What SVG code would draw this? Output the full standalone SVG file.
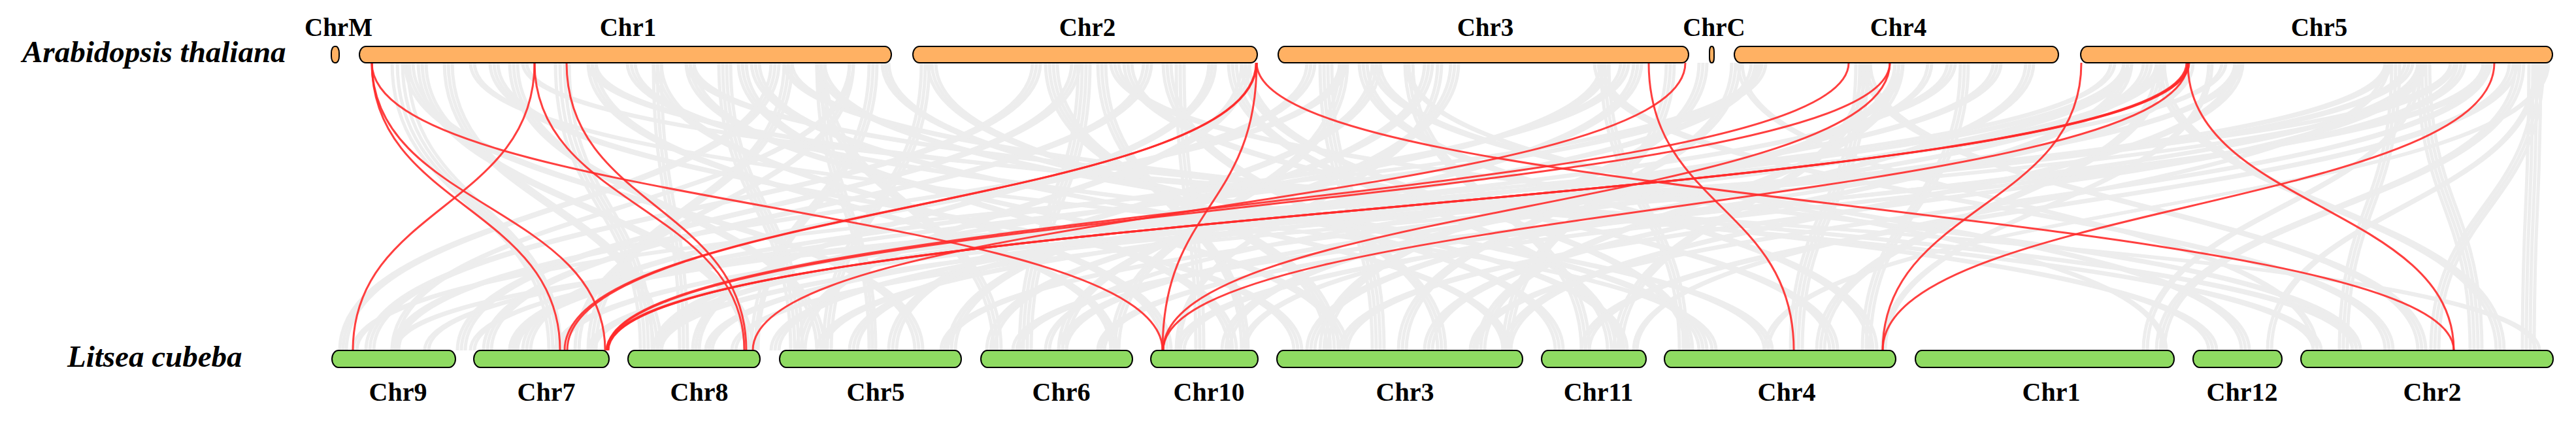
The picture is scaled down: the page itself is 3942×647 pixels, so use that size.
<svg xmlns="http://www.w3.org/2000/svg" width="3942" height="647" viewBox="0 0 3942 647">
<style>
.bg{fill:#ffffff}
.gray path{fill:none;stroke:#ededed;stroke-width:5}
.red path{fill:none;stroke:#ff2a2a;stroke-opacity:0.9;stroke-width:3}
.top{fill:#ffb163;stroke:#000;stroke-width:2}
.bot{fill:#8fdb62;stroke:#000;stroke-width:2}
.lab{font-family:"Liberation Serif","Times New Roman",serif;font-weight:bold;fill:#000;text-anchor:middle}
.tl{font-size:39px}
.bl{font-size:40px}
.sp{font-family:"Liberation Serif","Times New Roman",serif;font-weight:bold;font-style:italic;font-size:47px;fill:#000}
</style>
<rect class="bg" x="0" y="0" width="3942" height="647"/>
<g id="connectors">
<g class="gray">
<path d="M1180,96C1180,316 520,316 520,536"/><path d="M1186,96C1186,316 525,316 525,536"/><path d="M1192,96C1192,316 530,316 530,536"/>
<path d="M1580,96C1580,316 560,316 560,536"/><path d="M1586,96C1586,316 566,316 566,536"/><path d="M1592,96C1592,316 572,316 572,536"/>
<path d="M2050,96C2050,316 600,316 600,536"/><path d="M2055,96C2055,316 605,316 605,536"/><path d="M2060,96C2060,316 610,316 610,536"/>
<path d="M3400,96C3400,316 650,316 650,536"/><path d="M3406,96C3406,316 656,316 656,536"/>
<path d="M3750,96C3750,316 600,316 600,536"/><path d="M3756,96C3756,316 606,316 606,536"/>
<path d="M2690,96C2690,316 540,316 540,536"/><path d="M2696,96C2696,316 546,316 546,536"/>
<path d="M1300,96C1300,316 600,316 600,536"/><path d="M1306,96C1306,316 606,316 606,536"/>
<path d="M600,96C600,316 840,316 840,536"/><path d="M608,96C608,316 846,316 846,536"/><path d="M616,96C616,316 852,316 852,536"/><path d="M624,96C624,316 858,316 858,536"/>
<path d="M1750,96C1750,316 740,316 740,536"/><path d="M1756,96C1756,316 746,316 746,536"/><path d="M1762,96C1762,316 752,316 752,536"/>
<path d="M2690,96C2690,316 780,316 780,536"/><path d="M2696,96C2696,316 785,316 785,536"/><path d="M2702,96C2702,316 790,316 790,536"/>
<path d="M3250,96C3250,316 850,316 850,536"/><path d="M3256,96C3256,316 855,316 855,536"/><path d="M3262,96C3262,316 860,316 860,536"/>
<path d="M3650,96C3650,316 900,316 900,536"/><path d="M3655,96C3655,316 905,316 905,536"/><path d="M3660,96C3660,316 910,316 910,536"/>
<path d="M1300,96C1300,316 880,316 880,536"/><path d="M1306,96C1306,316 886,316 886,536"/>
<path d="M3230,96C3230,316 720,316 720,536"/><path d="M3236,96C3236,316 726,316 726,536"/>
<path d="M2000,96C2000,316 800,316 800,536"/><path d="M2006,96C2006,316 806,316 806,536"/><path d="M2012,96C2012,316 812,316 812,536"/>
<path d="M1200,96C1200,316 900,316 900,536"/><path d="M1206,96C1206,316 906,316 906,536"/><path d="M1212,96C1212,316 912,316 912,536"/>
<path d="M850,96C850,316 980,316 980,536"/><path d="M857,96C857,316 986,316 986,536"/><path d="M864,96C864,316 992,316 992,536"/><path d="M871,96C871,316 998,316 998,536"/>
<path d="M1000,96C1000,316 1040,316 1040,536"/><path d="M1006,96C1006,316 1046,316 1046,536"/><path d="M1012,96C1012,316 1052,316 1052,536"/>
<path d="M2450,96C2450,316 1000,316 1000,536"/><path d="M2456,96C2456,316 1006,316 1006,536"/><path d="M2462,96C2462,316 1012,316 1012,536"/>
<path d="M3300,96C3300,316 1080,316 1080,536"/><path d="M3306,96C3306,316 1085,316 1085,536"/><path d="M3312,96C3312,316 1090,316 1090,536"/>
<path d="M3750,96C3750,316 1120,316 1120,536"/><path d="M3756,96C3756,316 1126,316 1126,536"/>
<path d="M1850,96C1850,316 1060,316 1060,536"/><path d="M1855,96C1855,316 1065,316 1065,536"/><path d="M1860,96C1860,316 1070,316 1070,536"/>
<path d="M680,96C680,316 1000,316 1000,536"/><path d="M686,96C686,316 1006,316 1006,536"/><path d="M692,96C692,316 1012,316 1012,536"/>
<path d="M640,96C640,316 1140,316 1140,536"/><path d="M646,96C646,316 1146,316 1146,536"/><path d="M652,96C652,316 1152,316 1152,536"/>
<path d="M2980,96C2980,316 1000,316 1000,536"/><path d="M2986,96C2986,316 1006,316 1006,536"/><path d="M2992,96C2992,316 1012,316 1012,536"/>
<path d="M1100,96C1100,316 1210,316 1210,536"/><path d="M1106,96C1106,316 1216,316 1216,536"/><path d="M1112,96C1112,316 1222,316 1222,536"/><path d="M1118,96C1118,316 1228,316 1228,536"/>
<path d="M1410,96C1410,316 1260,316 1260,536"/><path d="M1416,96C1416,316 1266,316 1266,536"/><path d="M1422,96C1422,316 1272,316 1272,536"/>
<path d="M2680,96C2680,316 1300,316 1300,536"/><path d="M2686,96C2686,316 1306,316 1306,536"/><path d="M2692,96C2692,316 1312,316 1312,536"/>
<path d="M2100,96C2100,316 1360,316 1360,536"/><path d="M2106,96C2106,316 1366,316 1366,536"/><path d="M2112,96C2112,316 1372,316 1372,536"/>
<path d="M620,96C620,316 1400,316 1400,536"/><path d="M626,96C626,316 1406,316 1406,536"/><path d="M632,96C632,316 1412,316 1412,536"/>
<path d="M3420,96C3420,316 1440,316 1440,536"/><path d="M3425,96C3425,316 1445,316 1445,536"/><path d="M3430,96C3430,316 1450,316 1450,536"/>
<path d="M1250,96C1250,316 1330,316 1330,536"/><path d="M1256,96C1256,316 1335,316 1335,536"/><path d="M1262,96C1262,316 1340,316 1340,536"/>
<path d="M1900,96C1900,316 1220,316 1220,536"/><path d="M1906,96C1906,316 1226,316 1226,536"/><path d="M1912,96C1912,316 1232,316 1232,536"/>
<path d="M3250,96C3250,316 1250,316 1250,536"/><path d="M3256,96C3256,316 1256,316 1256,536"/><path d="M3262,96C3262,316 1262,316 1262,536"/>
<path d="M1250,96C1250,316 1520,316 1520,536"/><path d="M1256,96C1256,316 1526,316 1526,536"/><path d="M1262,96C1262,316 1532,316 1532,536"/>
<path d="M1650,96C1650,316 1560,316 1560,536"/><path d="M1656,96C1656,316 1566,316 1566,536"/><path d="M1662,96C1662,316 1572,316 1572,536"/><path d="M1668,96C1668,316 1578,316 1578,536"/>
<path d="M2220,96C2220,316 1620,316 1620,536"/><path d="M2226,96C2226,316 1626,316 1626,536"/><path d="M2232,96C2232,316 1632,316 1632,536"/>
<path d="M3700,96C3700,316 1680,316 1680,536"/><path d="M3705,96C3705,316 1685,316 1685,536"/><path d="M3710,96C3710,316 1690,316 1690,536"/>
<path d="M900,96C900,316 1700,316 1700,536"/><path d="M906,96C906,316 1705,316 1705,536"/><path d="M912,96C912,316 1710,316 1710,536"/>
<path d="M2950,96C2950,316 1600,316 1600,536"/><path d="M2956,96C2956,316 1606,316 1606,536"/>
<path d="M2500,96C2500,316 1510,316 1510,536"/><path d="M2506,96C2506,316 1516,316 1516,536"/><path d="M2512,96C2512,316 1522,316 1522,536"/>
<path d="M3800,96C3800,316 1550,316 1550,536"/><path d="M3806,96C3806,316 1556,316 1556,536"/><path d="M3812,96C3812,316 1562,316 1562,536"/>
<path d="M2050,96C2050,316 1700,316 1700,536"/><path d="M2056,96C2056,316 1706,316 1706,536"/><path d="M2062,96C2062,316 1712,316 1712,536"/>
<path d="M1000,96C1000,316 1780,316 1780,536"/><path d="M1006,96C1006,316 1786,316 1786,536"/><path d="M1012,96C1012,316 1792,316 1792,536"/>
<path d="M1800,96C1800,316 1830,316 1830,536"/><path d="M1806,96C1806,316 1836,316 1836,536"/><path d="M1812,96C1812,316 1842,316 1842,536"/>
<path d="M2900,96C2900,316 1870,316 1870,536"/><path d="M2906,96C2906,316 1876,316 1876,536"/><path d="M2912,96C2912,316 1882,316 1882,536"/>
<path d="M3350,96C3350,316 1900,316 1900,536"/><path d="M3356,96C3356,316 1906,316 1906,536"/>
<path d="M2200,96C2200,316 1800,316 1800,536"/><path d="M2206,96C2206,316 1805,316 1805,536"/>
<path d="M1680,96C1680,316 1900,316 1900,536"/><path d="M1686,96C1686,316 1905,316 1905,536"/><path d="M1692,96C1692,316 1910,316 1910,536"/>
<path d="M750,96C750,316 1980,316 1980,536"/><path d="M756,96C756,316 1986,316 1986,536"/><path d="M762,96C762,316 1992,316 1992,536"/>
<path d="M1600,96C1600,316 2030,316 2030,536"/><path d="M1606,96C1606,316 2036,316 2036,536"/><path d="M1612,96C1612,316 2042,316 2042,536"/><path d="M1618,96C1618,316 2048,316 2048,536"/>
<path d="M2020,96C2020,316 2100,316 2100,536"/><path d="M2026,96C2026,316 2106,316 2106,536"/><path d="M2032,96C2032,316 2112,316 2112,536"/><path d="M2038,96C2038,316 2118,316 2118,536"/>
<path d="M3250,96C3250,316 2180,316 2180,536"/><path d="M3256,96C3256,316 2186,316 2186,536"/><path d="M3262,96C3262,316 2192,316 2192,536"/>
<path d="M3800,96C3800,316 2250,316 2250,536"/><path d="M3805,96C3805,316 2255,316 2255,536"/><path d="M3810,96C3810,316 2260,316 2260,536"/>
<path d="M1150,96C1150,316 2300,316 2300,536"/><path d="M1156,96C1156,316 2305,316 2305,536"/><path d="M1162,96C1162,316 2310,316 2310,536"/>
<path d="M2650,96C2650,316 2140,316 2140,536"/><path d="M2656,96C2656,316 2146,316 2146,536"/><path d="M2662,96C2662,316 2152,316 2152,536"/>
<path d="M3100,96C3100,316 2000,316 2000,536"/><path d="M3106,96C3106,316 2006,316 2006,536"/><path d="M3112,96C3112,316 2012,316 2012,536"/>
<path d="M1780,96C1780,316 2200,316 2200,536"/><path d="M1786,96C1786,316 2206,316 2206,536"/><path d="M1792,96C1792,316 2212,316 2212,536"/>
<path d="M3700,96C3700,316 2050,316 2050,536"/><path d="M3706,96C3706,316 2056,316 2056,536"/><path d="M3712,96C3712,316 2062,316 2062,536"/>
<path d="M1420,96C1420,316 2380,316 2380,536"/><path d="M1426,96C1426,316 2386,316 2386,536"/><path d="M1432,96C1432,316 2392,316 2392,536"/>
<path d="M2150,96C2150,316 2420,316 2420,536"/><path d="M2156,96C2156,316 2426,316 2426,536"/><path d="M2162,96C2162,316 2432,316 2432,536"/>
<path d="M2850,96C2850,316 2470,316 2470,536"/><path d="M2856,96C2856,316 2476,316 2476,536"/><path d="M2862,96C2862,316 2482,316 2482,536"/>
<path d="M3650,96C3650,316 2500,316 2500,536"/><path d="M3656,96C3656,316 2505,316 2505,536"/>
<path d="M1350,96C1350,316 2480,316 2480,536"/><path d="M1355,96C1355,316 2485,316 2485,536"/><path d="M1360,96C1360,316 2490,316 2490,536"/>
<path d="M2550,96C2550,316 2300,316 2300,536"/><path d="M2556,96C2556,316 2306,316 2306,536"/><path d="M2562,96C2562,316 2312,316 2312,536"/>
<path d="M2450,96C2450,316 2570,316 2570,536"/><path d="M2456,96C2456,316 2576,316 2576,536"/><path d="M2462,96C2462,316 2582,316 2582,536"/>
<path d="M2840,96C2840,316 2740,316 2740,536"/><path d="M2846,96C2846,316 2746,316 2746,536"/><path d="M2852,96C2852,316 2752,316 2752,536"/><path d="M2858,96C2858,316 2758,316 2758,536"/>
<path d="M3300,96C3300,316 2780,316 2780,536"/><path d="M3306,96C3306,316 2786,316 2786,536"/><path d="M3312,96C3312,316 2792,316 2792,536"/>
<path d="M1250,96C1250,316 2600,316 2600,536"/><path d="M1256,96C1256,316 2606,316 2606,536"/><path d="M1262,96C1262,316 2612,316 2612,536"/>
<path d="M1900,96C1900,316 2580,316 2580,536"/><path d="M1906,96C1906,316 2585,316 2585,536"/><path d="M1912,96C1912,316 2590,316 2590,536"/>
<path d="M3000,96C3000,316 2850,316 2850,536"/><path d="M3006,96C3006,316 2856,316 2856,536"/><path d="M3012,96C3012,316 2862,316 2862,536"/>
<path d="M3380,96C3380,316 2880,316 2880,536"/><path d="M3385,96C3385,316 2885,316 2885,536"/>
<path d="M720,96C720,316 2620,316 2620,536"/><path d="M726,96C726,316 2626,316 2626,536"/>
<path d="M3900,96C3900,316 2700,316 2700,536"/><path d="M3896,96C3896,316 2706,316 2706,536"/>
<path d="M3850,96C3850,316 3300,316 3300,536"/><path d="M3856,96C3856,316 3306,316 3306,536"/><path d="M3862,96C3862,316 3312,316 3312,536"/>
<path d="M3700,96C3700,316 3280,316 3280,536"/><path d="M3706,96C3706,316 3286,316 3286,536"/>
<path d="M2150,96C2150,316 3310,316 3310,536"/><path d="M2155,96C2155,316 3315,316 3315,536"/>
<path d="M1200,96C1200,316 3380,316 3380,536"/><path d="M1206,96C1206,316 3386,316 3386,536"/><path d="M1212,96C1212,316 3392,316 3392,536"/>
<path d="M2100,96C2100,316 3430,316 3430,536"/><path d="M2106,96C2106,316 3436,316 3436,536"/><path d="M2112,96C2112,316 3442,316 3442,536"/>
<path d="M3880,96C3880,316 3470,316 3470,536"/><path d="M3885,96C3885,316 3476,316 3476,536"/>
<path d="M900,96C900,316 3540,316 3540,536"/><path d="M906,96C906,316 3546,316 3546,536"/><path d="M912,96C912,316 3552,316 3552,536"/>
<path d="M1700,96C1700,316 3600,316 3600,536"/><path d="M1706,96C1706,316 3606,316 3606,536"/><path d="M1712,96C1712,316 3612,316 3612,536"/>
<path d="M2440,96C2440,316 3650,316 3650,536"/><path d="M2446,96C2446,316 3656,316 3656,536"/><path d="M2452,96C2452,316 3662,316 3662,536"/>
<path d="M2850,96C2850,316 3700,316 3700,536"/><path d="M2856,96C2856,316 3706,316 3706,536"/><path d="M2862,96C2862,316 3712,316 3712,536"/>
<path d="M3700,96C3700,316 3780,316 3780,536"/><path d="M3706,96C3706,316 3786,316 3786,536"/><path d="M3712,96C3712,316 3792,316 3792,536"/><path d="M3718,96C3718,316 3798,316 3798,536"/>
<path d="M3870,96C3870,316 3860,316 3860,536"/><path d="M3876,96C3876,316 3866,316 3866,536"/><path d="M3882,96C3882,316 3872,316 3872,536"/><path d="M3888,96C3888,316 3878,316 3878,536"/>
<path d="M3300,96C3300,316 3820,316 3820,536"/><path d="M3306,96C3306,316 3826,316 3826,536"/><path d="M3312,96C3312,316 3832,316 3832,536"/>
<path d="M1050,96C1050,316 3600,316 3600,536"/><path d="M1056,96C1056,316 3606,316 3606,536"/><path d="M1062,96C1062,316 3612,316 3612,536"/>
<path d="M800,96C800,316 3880,316 3880,536"/><path d="M806,96C806,316 3886,316 3886,536"/>
<path d="M2660,96C2660,316 3540,316 3540,536"/><path d="M2666,96C2666,316 3546,316 3546,536"/>
<path d="M1130,96C1130,316 1880,316 1880,536"/><path d="M1136,96C1136,316 1886,316 1886,536"/><path d="M1142,96C1142,316 1892,316 1892,536"/>
<path d="M1330,96C1330,316 1150,316 1150,536"/><path d="M1336,96C1336,316 1156,316 1156,536"/><path d="M1342,96C1342,316 1160,316 1160,536"/>
<path d="M1640,96C1640,316 700,316 700,536"/><path d="M1646,96C1646,316 706,316 706,536"/><path d="M1652,96C1652,316 712,316 712,536"/>
<path d="M1880,96C1880,316 2460,316 2460,536"/><path d="M1886,96C1886,316 2466,316 2466,536"/><path d="M1892,96C1892,316 2472,316 2472,536"/>
<path d="M2080,96C2080,316 2860,316 2860,536"/><path d="M2086,96C2086,316 2866,316 2866,536"/><path d="M2092,96C2092,316 2872,316 2872,536"/>
<path d="M2180,96C2180,316 1450,316 1450,536"/><path d="M2186,96C2186,316 1456,316 1456,536"/><path d="M2192,96C2192,316 1462,316 1462,536"/>
<path d="M2480,96C2480,316 780,316 780,536"/><path d="M2486,96C2486,316 786,316 786,536"/><path d="M2492,96C2492,316 792,316 792,536"/>
<path d="M2600,96C2600,316 2020,316 2020,536"/><path d="M2606,96C2606,316 2026,316 2026,536"/><path d="M2612,96C2612,316 2032,316 2032,536"/>
<path d="M2900,96C2900,316 2260,316 2260,536"/><path d="M2906,96C2906,316 2266,316 2266,536"/><path d="M2912,96C2912,316 2272,316 2272,536"/>
<path d="M3050,96C3050,316 1180,316 1180,536"/><path d="M3056,96C3056,316 1186,316 1186,536"/><path d="M3062,96C3062,316 1192,316 1192,536"/>
<path d="M3280,96C3280,316 1620,316 1620,536"/><path d="M3286,96C3286,316 1626,316 1626,536"/><path d="M3292,96C3292,316 1632,316 1632,536"/>
<path d="M3680,96C3680,316 1000,316 1000,536"/><path d="M3686,96C3686,316 1006,316 1006,536"/><path d="M3692,96C3692,316 1012,316 1012,536"/>
<path d="M3760,96C3760,316 1800,316 1800,536"/><path d="M3766,96C3766,316 1806,316 1806,536"/><path d="M3772,96C3772,316 1812,316 1812,536"/>
<path d="M3840,96C3840,316 2420,316 2420,536"/><path d="M3846,96C3846,316 2426,316 2426,536"/><path d="M3852,96C3852,316 2432,316 2432,536"/>
<path d="M3880,96C3880,316 3720,316 3720,536"/><path d="M3886,96C3886,316 3726,316 3726,536"/><path d="M3892,96C3892,316 3732,316 3732,536"/>
<path d="M960,96C960,316 2700,316 2700,536"/><path d="M966,96C966,316 2706,316 2706,536"/><path d="M972,96C972,316 2712,316 2712,536"/>
<path d="M780,96C780,316 1250,316 1250,536"/><path d="M786,96C786,316 1256,316 1256,536"/><path d="M792,96C792,316 1262,316 1262,536"/>
<path d="M1050,96C1050,316 2050,316 2050,536"/><path d="M1056,96C1056,316 2056,316 2056,536"/><path d="M1062,96C1062,316 2062,316 2062,536"/>
<path d="M1720,96C1720,316 2800,316 2800,536"/><path d="M1726,96C1726,316 2806,316 2806,536"/><path d="M1732,96C1732,316 2812,316 2812,536"/>
<path d="M3420,96C3420,316 2300,316 2300,536"/><path d="M3426,96C3426,316 2306,316 2306,536"/><path d="M3432,96C3432,316 2312,316 2312,536"/>
<path d="M3660,96C3660,316 3580,316 3580,536"/><path d="M3666,96C3666,316 3586,316 3586,536"/><path d="M3672,96C3672,316 3592,316 3592,536"/>
</g>
<g class="red">
<path d="M569,96C569,316 857,316 857,536"/>
<path d="M569,96C569,316 926,316 926,536"/>
<path d="M569,96C569,316 1779,316 1779,536"/>
<path d="M818,96C818,316 540,316 540,536"/>
<path d="M818,96C818,316 1139,316 1139,536"/>
<path d="M867,96C867,316 1142,316 1142,536"/>
<path d="M1923,96C1923,316 1779,316 1779,536"/>
<path d="M1923,96C1923,316 864,316 864,536"/>
<path d="M1922,96C1922,316 868,316 868,536"/>
<path d="M1923,96C1923,316 3755,316 3755,536"/>
<path d="M2523,96C2523,316 2745,316 2745,536"/>
<path d="M2579,96C2579,316 1152,316 1152,536"/>
<path d="M2829,96C2829,316 929,316 929,536"/>
<path d="M2892,96C2892,316 930,316 930,536"/>
<path d="M2892,96C2892,316 1780,316 1780,536"/>
<path d="M3185,96C3185,316 2881,316 2881,536"/>
<path d="M3817,96C3817,316 2881,316 2881,536"/>
<path d="M3348,96C3348,316 3755,316 3755,536"/>
<path d="M3348,96C3348,316 930,316 930,536"/>
<path d="M3346,96C3346,316 931,316 931,536"/>
<path d="M3350,96C3350,316 928,316 928,536"/>
<path d="M3348,96C3348,316 1780,316 1780,536"/>
</g>
</g>
<g id="label-arabidopsis"><text class="sp" x="34" y="95">Arabidopsis thaliana</text></g>
<g id="label-litsea"><text class="sp" x="103" y="561">Litsea cubeba</text></g>
<g id="At-ChrM"><rect class="top" x="507" y="71" width="12" height="25" rx="5" ry="10"/><text class="lab tl" x="518" y="55">ChrM</text></g>
<g id="At-Chr1"><rect class="top" x="550" y="71" width="814" height="25" rx="10" ry="12.5"/><text class="lab tl" x="961" y="55">Chr1</text></g>
<g id="At-Chr2"><rect class="top" x="1397" y="71" width="527" height="25" rx="10" ry="12.5"/><text class="lab tl" x="1664" y="55">Chr2</text></g>
<g id="At-Chr3"><rect class="top" x="1956" y="71" width="628" height="25" rx="10" ry="12.5"/><text class="lab tl" x="2273" y="55">Chr3</text></g>
<g id="At-ChrC"><rect class="top" x="2616" y="71" width="7" height="25" rx="3" ry="8"/><text class="lab tl" x="2623" y="55">ChrC</text></g>
<g id="At-Chr4"><rect class="top" x="2654" y="71" width="496" height="25" rx="10" ry="12.5"/><text class="lab tl" x="2905" y="55">Chr4</text></g>
<g id="At-Chr5"><rect class="top" x="3184" y="71" width="722" height="25" rx="10" ry="12.5"/><text class="lab tl" x="3549" y="55">Chr5</text></g>
<g id="Lc-Chr9"><rect class="bot" x="508" y="536" width="189" height="26" rx="10" ry="13"/><text class="lab bl" x="609" y="613">Chr9</text></g>
<g id="Lc-Chr7"><rect class="bot" x="725" y="536" width="207" height="26" rx="10" ry="13"/><text class="lab bl" x="836" y="613">Chr7</text></g>
<g id="Lc-Chr8"><rect class="bot" x="961" y="536" width="202" height="26" rx="10" ry="13"/><text class="lab bl" x="1070" y="613">Chr8</text></g>
<g id="Lc-Chr5"><rect class="bot" x="1193" y="536" width="278" height="26" rx="10" ry="13"/><text class="lab bl" x="1340" y="613">Chr5</text></g>
<g id="Lc-Chr6"><rect class="bot" x="1501" y="536" width="232" height="26" rx="10" ry="13"/><text class="lab bl" x="1624" y="613">Chr6</text></g>
<g id="Lc-Chr10"><rect class="bot" x="1761" y="536" width="164" height="26" rx="10" ry="13"/><text class="lab bl" x="1850" y="613">Chr10</text></g>
<g id="Lc-Chr3"><rect class="bot" x="1954" y="536" width="376" height="26" rx="10" ry="13"/><text class="lab bl" x="2150" y="613">Chr3</text></g>
<g id="Lc-Chr11"><rect class="bot" x="2359" y="536" width="160" height="26" rx="10" ry="13"/><text class="lab bl" x="2446" y="613">Chr11</text></g>
<g id="Lc-Chr4"><rect class="bot" x="2547" y="536" width="354" height="26" rx="10" ry="13"/><text class="lab bl" x="2734" y="613">Chr4</text></g>
<g id="Lc-Chr1"><rect class="bot" x="2931" y="536" width="396" height="26" rx="10" ry="13"/><text class="lab bl" x="3139" y="613">Chr1</text></g>
<g id="Lc-Chr12"><rect class="bot" x="3356" y="536" width="136" height="26" rx="10" ry="13"/><text class="lab bl" x="3431" y="613">Chr12</text></g>
<g id="Lc-Chr2"><rect class="bot" x="3521" y="536" width="386" height="26" rx="10" ry="13"/><text class="lab bl" x="3722" y="613">Chr2</text></g>
</svg>
